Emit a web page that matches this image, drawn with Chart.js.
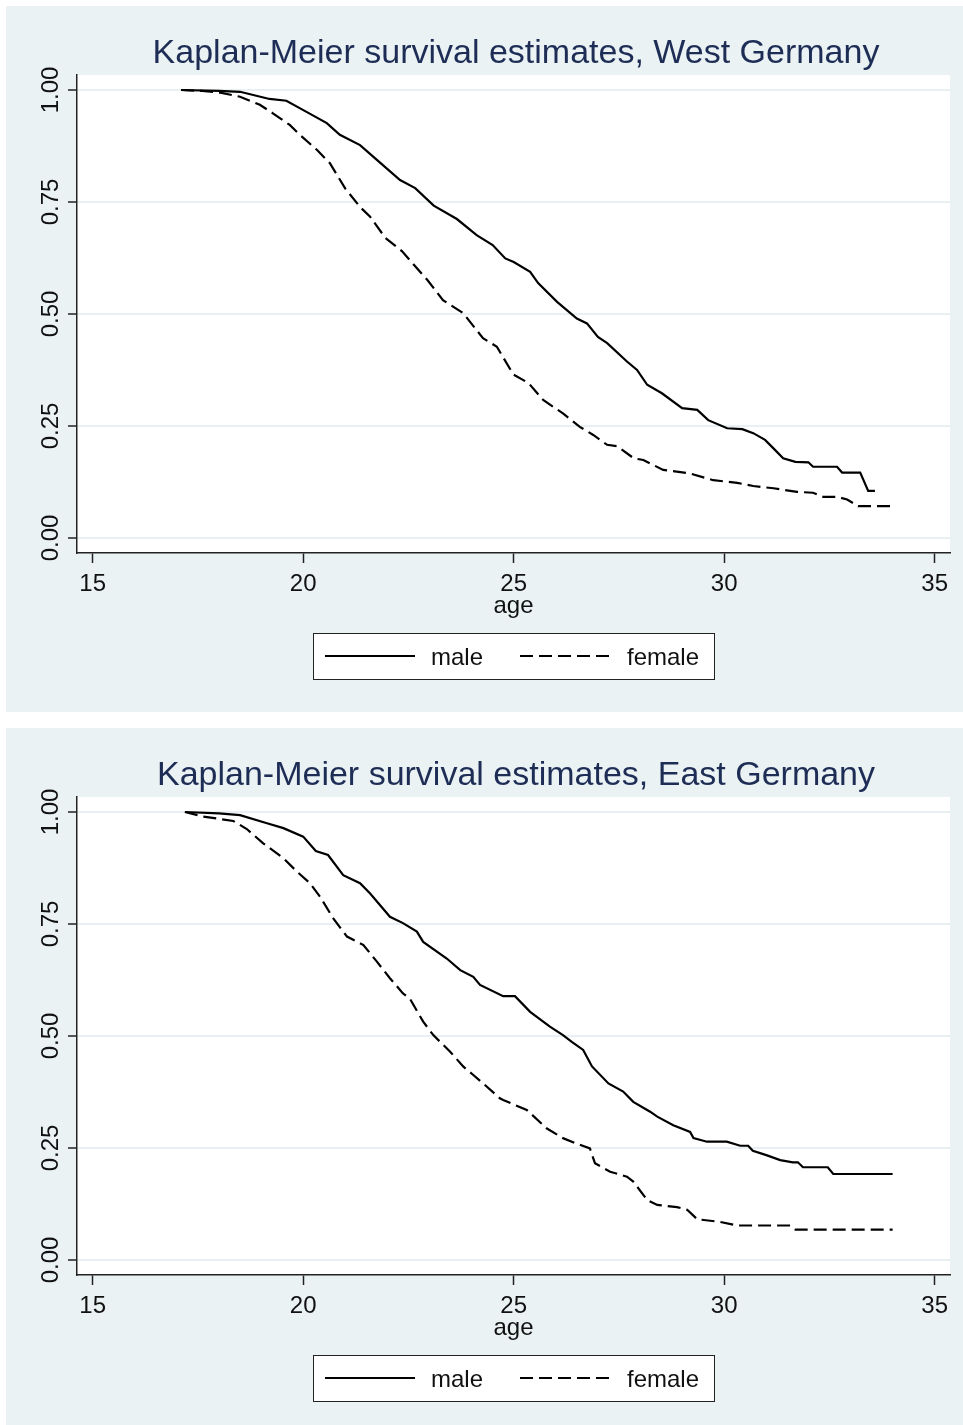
<!DOCTYPE html>
<html>
<head>
<meta charset="utf-8">
<script src="https://cdn.jsdelivr.net/npm/chart.js@4.4.1/dist/chart.umd.min.js"></script>
<style>
  html, body { margin: 0; padding: 0; background: #ffffff; overflow: hidden; }
  canvas { position: absolute; left: 6px; }
  #grafico-oeste { top: 6px; }
  #grafico-leste { top: 728px; }
</style>
</head>
<body>
<canvas id="grafico-oeste" width="957" height="706"></canvas>
<canvas id="grafico-leste" width="957" height="706"></canvas>
<script>
const xTicks = [15, 20, 25, 30, 35];
const yTicks = [0, 0.25, 0.5, 0.75, 1];
const legendLabels = ['male', 'female'];

const westMaleAge = [17.1, 18.0, 18.5, 19.2, 19.6, 20.1, 20.56, 20.87, 21.35, 21.75, 22.3, 22.66, 23.1, 23.65,
  24.12, 24.5, 24.8, 25.0, 25.39, 25.58, 26.03, 26.5, 26.74, 27.0, 27.22, 27.69, 27.93, 28.17, 28.52, 29.0,
  29.36, 29.62, 30.07, 30.43, 30.69, 30.97, 31.17, 31.4, 31.69, 32.0, 32.11, 32.68, 32.8, 33.23, 33.42, 33.58];
const westMaleSurv = [1.0, 0.998, 0.996, 0.98, 0.976, 0.95, 0.926, 0.9, 0.877, 0.844, 0.799, 0.781, 0.742, 0.712,
  0.676, 0.654, 0.624, 0.616, 0.594, 0.569, 0.527, 0.49, 0.479, 0.449, 0.435, 0.394, 0.375, 0.342, 0.323, 0.29,
  0.286, 0.263, 0.245, 0.243, 0.234, 0.219, 0.2, 0.178, 0.17, 0.169, 0.159, 0.159, 0.146, 0.146, 0.105, 0.105];

const westFemaleAge = [17.1, 17.6, 18.03, 18.5, 18.97, 19.28, 19.68, 19.92, 20.33, 20.63, 21.0, 21.35, 21.59,
  21.95, 22.35, 22.6, 22.95, 23.32, 23.8, 24.27, 24.6, 24.99, 25.35, 25.7, 26.17, 26.57, 26.89, 27.22, 27.46,
  27.85, 28.08, 28.55, 29.19, 29.74, 30.31, 30.69, 31.17, 31.73, 32.11, 32.35, 32.68, 32.92, 33.18, 34.0];
const westFemaleSurv = [1.0, 0.998, 0.994, 0.985, 0.967, 0.948, 0.922, 0.9, 0.866, 0.837, 0.78, 0.739, 0.717,
  0.67, 0.64, 0.613, 0.576, 0.531, 0.502, 0.446, 0.427, 0.365, 0.346, 0.308, 0.278, 0.248, 0.23, 0.208, 0.205,
  0.178, 0.174, 0.152, 0.144, 0.129, 0.123, 0.116, 0.111, 0.103, 0.101, 0.092, 0.092, 0.086, 0.071, 0.071];

const eastMaleAge = [17.19, 18.0, 18.5, 19.14, 19.53, 20.0, 20.3, 20.59, 20.95, 21.35, 21.59, 22.06, 22.37, 22.7,
  22.85, 23.41, 23.73, 24.04, 24.2, 24.75, 25.03, 25.39, 25.86, 26.17, 26.38, 26.65, 26.86, 27.25, 27.6, 27.84,
  28.24, 28.41, 28.79, 29.19, 29.27, 29.59, 30.06, 30.38, 30.57, 30.68, 31.0, 31.33, 31.63, 31.75, 31.87, 32.46,
  32.59, 34.0];
const eastMaleSurv = [1.0, 0.997, 0.993, 0.975, 0.964, 0.945, 0.913, 0.904, 0.859, 0.841, 0.818, 0.766, 0.752, 0.733,
  0.71, 0.673, 0.647, 0.632, 0.614, 0.589, 0.589, 0.554, 0.521, 0.502, 0.487, 0.469, 0.432, 0.394, 0.376, 0.353,
  0.331, 0.32, 0.301, 0.286, 0.272, 0.264, 0.264, 0.255, 0.255, 0.244, 0.234, 0.223, 0.218, 0.218, 0.207, 0.207,
  0.192, 0.192];

const eastFemaleAge = [17.19, 17.62, 18.34, 18.66, 19.05, 19.53, 19.85, 20.16, 20.4, 20.71, 21.04, 21.43, 21.75,
  22.06, 22.37, 22.53, 22.85, 23.09, 23.49, 23.8, 24.04, 24.3, 24.67, 24.75, 25.31, 25.78, 26.17, 26.49, 26.81,
  26.93, 27.29, 27.69, 27.84, 28.17, 28.41, 28.88, 29.12, 29.36, 29.9, 30.31, 31.57, 31.69, 34.0];
const eastFemaleSurv = [1.0, 0.99, 0.98, 0.962, 0.93, 0.897, 0.867, 0.841, 0.811, 0.763, 0.722, 0.703, 0.666,
  0.629, 0.595, 0.584, 0.532, 0.502, 0.465, 0.432, 0.413, 0.392, 0.361, 0.357, 0.335, 0.294, 0.272, 0.26, 0.249,
  0.216, 0.197, 0.186, 0.175, 0.134, 0.123, 0.118, 0.112, 0.091, 0.085, 0.077, 0.077, 0.068, 0.068];

const FONTE = '"Liberation Sans", Arial, sans-serif';
const TRACO = [13, 6];

// fundo do painel, titulo, rotulos do eixo y, "age" e legenda com moldura
const painelKM = {
  id: 'painelKM',
  beforeDraw(chart) {
    const { ctx, chartArea: area } = chart;
    ctx.save();
    ctx.fillStyle = '#eaf2f3';
    ctx.fillRect(0, 0, chart.width, chart.height);
    ctx.fillStyle = '#ffffff';
    ctx.fillRect(area.left, area.top, area.right - area.left, area.bottom - area.top);
    ctx.restore();
  },
  afterDraw(chart, args, opts) {
    const { ctx, chartArea: area, scales } = chart;
    ctx.save();

    ctx.fillStyle = '#1e2d56';
    ctx.font = `34px ${FONTE}`;
    ctx.textAlign = 'center';
    ctx.textBaseline = 'alphabetic';
    ctx.fillText(opts.titulo, 510, 57);

    ctx.fillStyle = '#111111';
    ctx.font = `24px ${FONTE}`;
    yTicks.forEach((valor) => {
      const y = scales.y.getPixelForValue(valor);
      ctx.save();
      ctx.translate(52, y);
      ctx.rotate(-Math.PI / 2);
      ctx.fillText(valor.toFixed(2), 0, 0);
      ctx.restore();
    });

    ctx.fillText('age', (area.left + area.right) / 2, 607);

    // legenda
    ctx.fillStyle = '#ffffff';
    ctx.fillRect(307, 627, 401, 46);
    ctx.strokeStyle = '#222222';
    ctx.lineWidth = 1;
    ctx.strokeRect(307.5, 627.5, 401, 46);

    ctx.strokeStyle = '#000000';
    ctx.lineWidth = 2.2;
    ctx.beginPath();
    ctx.moveTo(319, 650);
    ctx.lineTo(409, 650);
    ctx.stroke();
    ctx.setLineDash(TRACO);
    ctx.beginPath();
    ctx.moveTo(514, 650);
    ctx.lineTo(606, 650);
    ctx.stroke();
    ctx.setLineDash([]);

    ctx.fillStyle = '#111111';
    ctx.textAlign = 'left';
    ctx.fillText(legendLabels[0], 425, 659);
    ctx.fillText(legendLabels[1], 621, 659);
    ctx.restore();
  },
};

function montarPontos(idades, sobrevida) {
  return idades.map((idade, i) => ({ x: idade, y: sobrevida[i] }));
}

function criarGrafico(id, titulo, maleAge, maleSurv, femaleAge, femaleSurv) {
  const contexto = document.getElementById(id);

  return new Chart(contexto, {
    type: 'line',
    data: {
      datasets: [
        {
          label: legendLabels[0],
          data: montarPontos(maleAge, maleSurv),
          borderColor: '#000000',
          borderWidth: 2.2,
          pointRadius: 0,
          tension: 0,
          fill: false,
        },
        {
          label: legendLabels[1],
          data: montarPontos(femaleAge, femaleSurv),
          borderColor: '#000000',
          borderWidth: 2.2,
          borderDash: TRACO,
          pointRadius: 0,
          tension: 0,
          fill: false,
        },
      ],
    },
    options: {
      responsive: false,
      animation: false,
      devicePixelRatio: 1,
      layout: {
        autoPadding: false,
        padding: { left: 0, right: 13, top: 69, bottom: 109 },
      },
      plugins: {
        legend: { display: false },
        title: { display: false },
        tooltip: { enabled: false },
        painelKM: { titulo },
      },
      scales: {
        x: {
          type: 'linear',
          min: 14.627,
          max: 35.363,
          afterBuildTicks: (escala) => {
            escala.ticks = xTicks.map((valor) => ({ value: valor }));
          },
          afterFit: (escala) => {
            escala.height = 50;
          },
          grid: {
            drawOnChartArea: false,
            drawTicks: true,
            tickLength: 10,
            tickColor: '#222222',
            tickWidth: 1.5,
          },
          border: { display: true, color: '#222222', width: 1.5 },
          ticks: {
            color: '#111111',
            font: { family: FONTE, size: 24 },
            padding: 7,
            maxRotation: 0,
            minRotation: 0,
            autoSkip: false,
            callback: (valor) => String(valor),
          },
        },
        y: {
          type: 'linear',
          min: -0.0335,
          max: 1.0335,
          afterBuildTicks: (escala) => {
            escala.ticks = yTicks.map((valor) => ({ value: valor }));
          },
          afterFit: (escala) => {
            escala.width = 71;
          },
          grid: {
            color: '#e8f0f2',
            lineWidth: 2,
            drawTicks: true,
            tickLength: 9,
            tickColor: '#222222',
            tickWidth: 1.5,
          },
          border: { display: true, color: '#222222', width: 1.5 },
          ticks: { display: false },
        },
      },
    },
    plugins: [painelKM],
  });
}

criarGrafico('grafico-oeste', 'Kaplan-Meier survival estimates, West Germany',
  westMaleAge, westMaleSurv, westFemaleAge, westFemaleSurv);
criarGrafico('grafico-leste', 'Kaplan-Meier survival estimates, East Germany',
  eastMaleAge, eastMaleSurv, eastFemaleAge, eastFemaleSurv);
</script>
</body>
</html>
